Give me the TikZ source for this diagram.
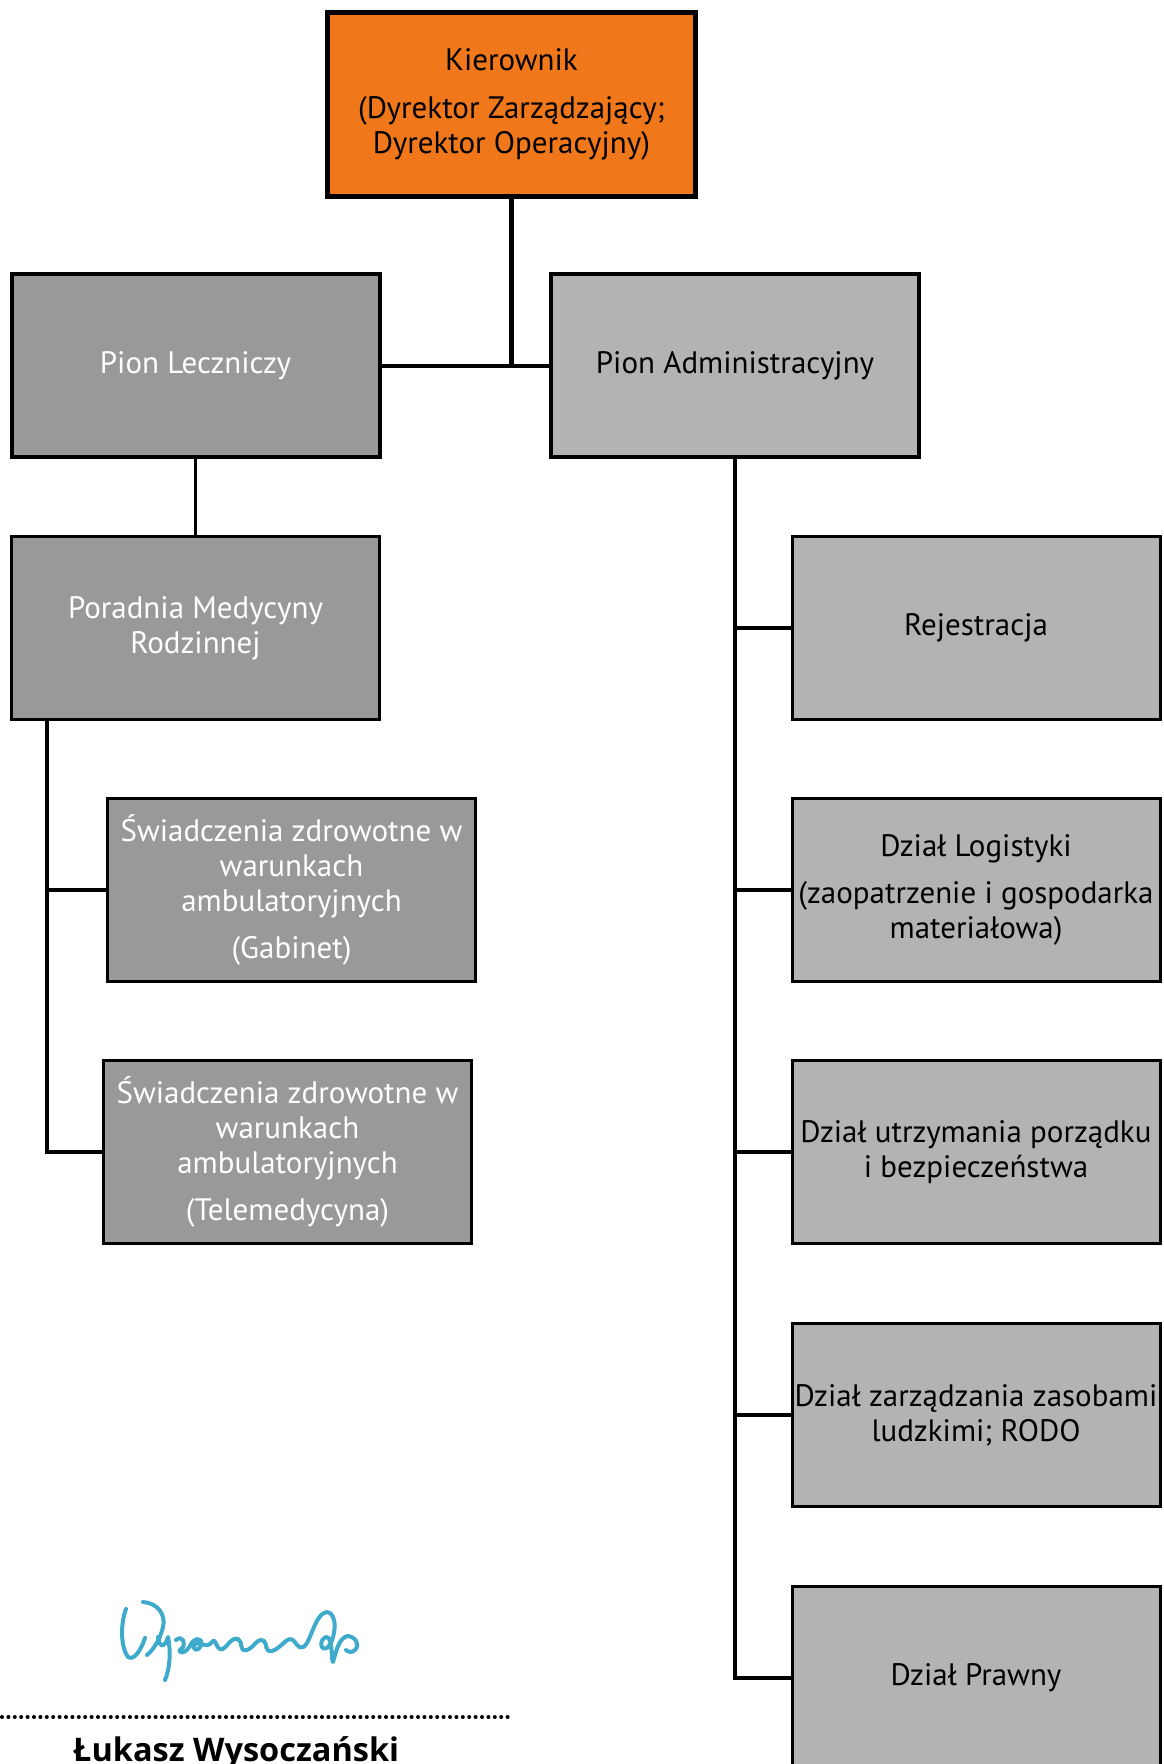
\documentclass[tikz,border=0pt]{standalone}
\usepackage{fontspec}
\setmainfont{PT Sans}
\newfontfamily\namefont{Open Sans}
\definecolor{orng}{RGB}{241,120,26}
\definecolor{dgray}{RGB}{153,153,153}
\definecolor{lgray}{RGB}{179,179,179}
\definecolor{sigc}{RGB}{62,170,204}
\begin{document}
\begin{tikzpicture}[x=1pt,y=-1pt,
  box/.style={draw=black, line width=3pt, minimum width=368pt, minimum height=183pt,
    inner sep=0pt, align=center, font=\fontsize{31}{35}\selectfont},
  darkbox/.style={box, fill=dgray, text=white},
  lightbox/.style={box, fill=lgray, text=black},
  conn/.style={draw=black, line width=4pt},
  thinconn/.style={draw=black, line width=3.5pt}]
\useasboundingbox (0,0) rectangle (1164,1764);
\fill[white] (0,0) rectangle (1164,1764);

\node[box, fill=orng, line width=5pt, minimum width=368pt, minimum height=184pt] (top) at (511.5,104)
  {Kierownik\\[13pt](Dyrektor Zarządzający;\\Dyrektor Operacyjny)};

\node[darkbox, line width=4pt] (pl) at (195.5,365.5) {Pion Leczniczy};
\node[lightbox, line width=4pt] (pa) at (735,365.5) {Pion Administracyjny};

\node[darkbox] (por) at (195.5,628) {Poradnia Medycyny\\Rodzinnej};
\node[darkbox] (sw1) at (291.5,890) {Świadczenia zdrowotne w\\warunkach\\ambulatoryjnych\\[12pt](Gabinet)};
\node[darkbox] (sw2) at (287.5,1152) {Świadczenia zdrowotne w\\warunkach\\ambulatoryjnych\\[12pt](Telemedycyna)};

\node[lightbox] (rej) at (976,628) {Rejestracja};
\node[lightbox] (log) at (976,890) {Dział Logistyki\\[12pt](zaopatrzenie i gospodarka\\materiałowa)};
\node[lightbox] (utr) at (976,1152) {Dział utrzymania porządku\\i bezpieczeństwa};
\node[lightbox] (zar) at (976,1415) {Dział zarządzania zasobami\\ludzkimi; RODO};
\node[lightbox] (pra) at (976,1678) {Dział Prawny};

% connectors
\coordinate (junc) at (top.south |- pl.east);
\draw[conn, line width=5pt] (top.south) -- (junc);
\draw[conn] (pl.east) -- (pa.west);
\draw[thinconn] (pl.south) -- (por.north);

\coordinate (lbus) at ([xshift=37pt]por.south west);
\draw[conn] (lbus) |- (sw2.west);
\draw[thinconn] (lbus |- sw1.west) -- (sw1.west);

\draw[conn] (pa.south) |- (pra.west);
\draw[thinconn] (pa.south |- rej.west) -- (rej.west);
\draw[thinconn] (pa.south |- log.west) -- (log.west);
\draw[thinconn] (pa.south |- utr.west) -- (utr.west);
\draw[thinconn] (pa.south |- zar.west) -- (zar.west);

% signature
\begin{scope}[sigc, line width=4pt, line cap=round, line join=round]
\draw (126,1609) .. controls (120,1625) and (121,1648) .. (128,1657)
  .. controls (134,1661) and (141,1650) .. (145,1638);
\draw (143,1602) .. controls (158,1603) and (166,1615) .. (163,1627)
  .. controls (160,1640) and (153,1650) .. (147,1655);
\draw (158,1637) .. controls (159,1646) and (164,1650) .. (168,1637)
  .. controls (171,1652) and (170,1668) .. (165,1680);
\draw (176,1640) .. controls (183,1634) and (187,1645) .. (181,1649)
  .. controls (176,1652) and (184,1656) .. (190,1646)
  .. controls (193,1638) and (203,1636) .. (201,1645)
  .. controls (199,1652) and (191,1651) .. (195,1644)
  .. controls (199,1640) and (206,1650) .. (212,1642)
  .. controls (216,1636) and (216,1652) .. (223,1649)
  .. controls (229,1645) and (231,1637) .. (238,1639)
  .. controls (244,1642) and (238,1652) .. (247,1650)
  .. controls (255,1647) and (257,1637) .. (264,1641)
  .. controls (268,1645) and (264,1652) .. (272,1651)
  .. controls (282,1648) and (288,1634) .. (294,1641)
  .. controls (298,1646) and (301,1652) .. (307,1643)
  .. controls (313,1632) and (317,1613) .. (327,1612)
  .. controls (338,1613) and (336,1638) .. (328,1647)
  .. controls (321,1653) and (318,1640) .. (326,1637)
  .. controls (333,1636) and (331,1660) .. (333,1662)
  .. controls (336,1652) and (339,1637) .. (348,1636)
  .. controls (356,1637) and (360,1645) .. (355,1650)
  .. controls (352,1653) and (348,1652) .. (346,1650);
\end{scope}

% dotted line and name
\coordinate (dotl) at (2,1717);
\coordinate (dotr) at (508,1717);
\draw[line width=4pt, line cap=round, dash pattern=on 0pt off 6.4pt] (dotl) -- (dotr);
\node[font=\namefont\fontsize{32.5}{36}\selectfont\bfseries, anchor=base west, inner sep=0pt] (name) at (73,1761) {Łukasz Wysoczański};
\end{tikzpicture}
\end{document}
